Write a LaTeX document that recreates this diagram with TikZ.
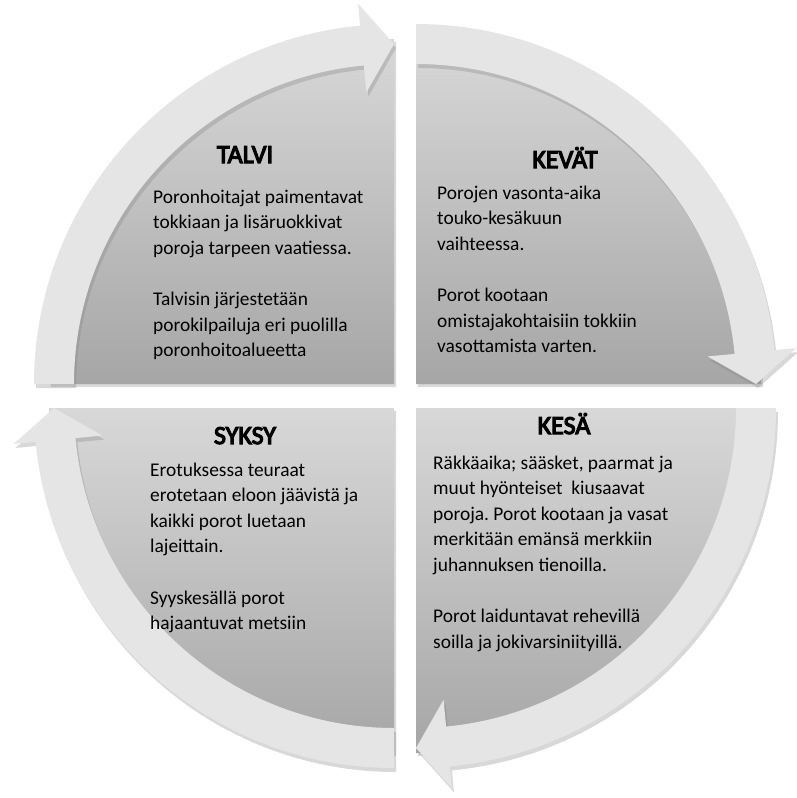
\documentclass[tikz,border=0pt]{standalone}
\usepackage{fontspec}
\setmainfont{Carlito}
\newfontfamily\titlefont{Carlito}[FakeBold=4.5]
\usetikzlibrary{shadows}
\definecolor{arrowfill}{HTML}{E5E5E5}
\definecolor{pietop}{HTML}{D8D8D8}
\definecolor{piebot}{HTML}{A6A6A6}
\newcommand{\bodytext}[1]{\parbox[t]{340pt}{\fontsize{19.4}{25.6}\selectfont\frenchspacing\raggedright #1}}
\newcommand{\cyclearrow}[4]{% start angle, head base angle, tip angle, start angle again
  \path[cyclearrow] (#1:320) arc[start angle=#1, end angle=#2, radius=320]
    -- (#2:293) -- (#3:340) -- (#2:382) -- (#2:360)
    arc[start angle=#2, end angle=#4, radius=360] -- cycle;}
\newcommand{\piequarter}[2]{%
  \path[pie] (0,0) -- (#1:345) arc[start angle=#1, end angle=#2, radius=345] -- cycle;}
\begin{document}
\begin{tikzpicture}[x=1pt,y=-1pt,
  pie/.style={top color=pietop, bottom color=piebot,
    drop shadow={opacity=0.3, shadow xshift=2pt, shadow yshift=-3pt}},
  cyclearrow/.style={fill=arrowfill,
    drop shadow={opacity=0.3, shadow xshift=2pt, shadow yshift=-4pt}},
  title/.style={font=\fontsize{26}{30}\selectfont\titlefont, anchor=base, inner sep=0},
  body/.style={anchor=base west, inner sep=0}]
\fill[white] (0,0) rectangle (796,798);
\useasboundingbox (0,0) rectangle (796,798);
\coordinate (cT) at (394,384);
\coordinate (cK) at (416,384);
\coordinate (cE) at (416,408);
\coordinate (cS) at (394,408);
% pies
\begin{scope}[shift={(cT)}]\piequarter{180}{270}\end{scope}
\begin{scope}[shift={(cK)}]\piequarter{270}{360}\end{scope}
\begin{scope}[shift={(cE)}]\piequarter{0}{90}\end{scope}
\begin{scope}[shift={(cS)}]\piequarter{90}{180}\end{scope}
% arrows
\begin{scope}[shift={(cT)}]\cyclearrow{180}{264.6}{270}{180}\end{scope}
\begin{scope}[shift={(cK)}]\cyclearrow{270}{354.6}{360}{270}\end{scope}
\begin{scope}[shift={(cE)}]\cyclearrow{0}{84.6}{90}{0}\end{scope}
\begin{scope}[shift={(cS)}]\cyclearrow{90}{174.6}{180}{90}\end{scope}
% titles
\node[title] (tTalvi) at (245,163) {TALVI};
\node[title] (tKevat) at (565,168) {KEVÄT};
\node[title] (tSyksy) at (245,444) {SYKSY};
\node[title] (tKesa) at (564,434) {KESÄ};
% texts
\node[body] (bTalvi) at (153,203) {\bodytext{Poronhoitajat paimentavat\\tokkiaan ja lisäruokkivat\\poroja tarpeen vaatiessa.\\[25.6pt]Talvisin järjestetään\\porokilpailuja eri puolilla\\poronhoitoalueetta}};
\node[body] (bKevat) at (437,199) {\bodytext{Porojen vasonta-aika\\touko-kesäkuun\\vaihteessa.\\[25.6pt]Porot kootaan\\omistajakohtaisiin tokkiin\\vasottamista varten.}};
\node[body] (bSyksy) at (150,476) {\bodytext{Erotuksessa teuraat\\erotetaan eloon jäävistä ja\\kaikki porot luetaan\\lajeittain.\\[25.6pt]Syyskesällä porot\\hajaantuvat metsiin}};
\node[body] (bKesa) at (433,469) {\bodytext{Räkkäaika; sääsket, paarmat ja\\muut hyönteiset\ \ kiusaavat\\poroja. Porot kootaan ja vasat\\merkitään emänsä merkkiin\\juhannuksen tienoilla.\\[25.6pt]Porot laiduntavat rehevillä\\soilla ja jokivarsiniityillä.}};
\end{tikzpicture}
\end{document}
